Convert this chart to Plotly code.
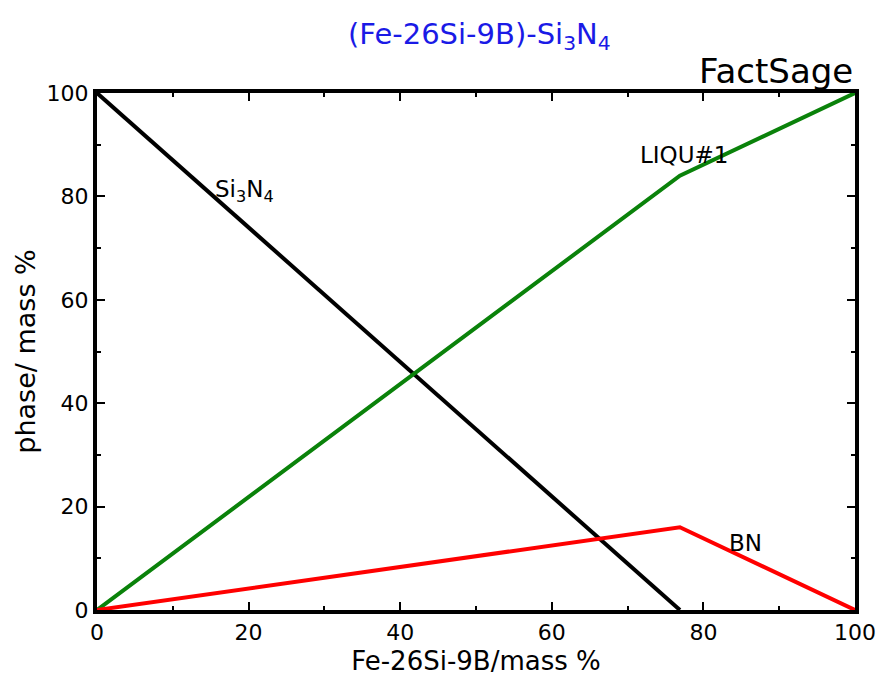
import plotly.graph_objects as go

x_si3n4 = [0, 76.9]
y_si3n4 = [100, 0]
x_liq = [0, 76.9, 100]
y_liq = [0, 84, 100]
x_bn = [0, 76.9, 100]
y_bn = [0, 16, 0]

FONT = "DejaVu Sans"

fig = go.Figure()
fig.add_trace(go.Scatter(x=x_si3n4, y=y_si3n4, mode="lines", line=dict(color="black", width=4), showlegend=False))
fig.add_trace(go.Scatter(x=x_liq, y=y_liq, mode="lines", line=dict(color="#0a820a", width=4), showlegend=False))
fig.add_trace(go.Scatter(x=x_bn, y=y_bn, mode="lines", line=dict(color="#ff0000", width=4), showlegend=False))

ann = [
    dict(x=19.5, y=81, text="Si<sub>3</sub>N<sub>4</sub>"),
    dict(x=77.5, y=88, text="LIQU#1"),
    dict(x=85.5, y=13, text="BN"),
]
for a in ann:
    fig.add_annotation(x=a["x"], y=a["y"], text=a["text"], showarrow=False,
                       font=dict(family=FONT, size=23, color="black"))

fig.add_annotation(text="(Fe-26Si-9B)-Si<sub>3</sub>N<sub>4</sub>", xref="paper", yref="paper",
                   x=0.505, y=1, yshift=78, showarrow=False, xanchor="center",
                   font=dict(family=FONT, size=29, color="#1a1ae6"))
fig.add_annotation(text="FactSage", xref="paper", yref="paper", x=1, y=1, yshift=44,
                   xanchor="right", showarrow=False, font=dict(family=FONT, size=34, color="black"))

axis_common = dict(
    showline=True, linewidth=4, linecolor="black", mirror="ticks",
    ticks="inside", ticklen=8, tickwidth=2, tickcolor="black",
    showgrid=False, zeroline=False, automargin=False,
    tickfont=dict(family=FONT, size=22, color="black"),
    minor=dict(ticks="inside", ticklen=4, tickwidth=2, tickcolor="black", dtick=10),
)
fig.update_xaxes(range=[0, 100], dtick=20, title=dict(text="Fe-26Si-9B/mass %", font=dict(family=FONT, size=26, color="black"), standoff=16), **axis_common)
fig.update_yaxes(range=[0, 100], dtick=20, title=dict(text="phase/ mass %", font=dict(family=FONT, size=27, color="black"), standoff=4), **axis_common)

fig.update_layout(
    width=876, height=676,
    margin=dict(l=97, r=21, t=93, b=66),
    paper_bgcolor="white", plot_bgcolor="white",
)
fig.write_html("out.html")
